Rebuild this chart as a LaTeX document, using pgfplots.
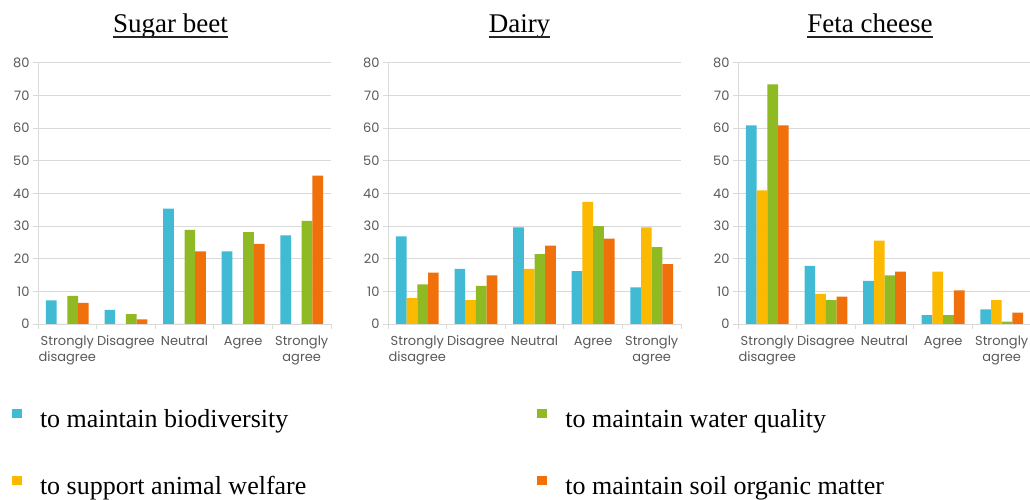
\documentclass[border=0pt]{standalone}
\usepackage{pgfplots}
\pgfplotsset{compat=1.18}
\usepackage{fontspec}
\setmainfont{Liberation Serif}
\newfontfamily\tickfont{Poppins}
\definecolor{cBlue}{HTML}{41BAD4}
\definecolor{cYellow}{HTML}{FBB900}
\definecolor{cGreen}{HTML}{8FBA23}
\definecolor{cOrange}{HTML}{F0700C}
\definecolor{gridgray}{HTML}{D9D9D9}
\definecolor{tickgray}{HTML}{595959}
\pgfplotsset{
  panel/.style={
    scale only axis, width=293pt, height=261.3pt,
    at={(#1,176pt)}, anchor=south west,
    ybar=0pt, bar width=10.7pt,
    ymin=0, ymax=80, ytick={0,10,...,80},
    xmin=-0.5, xmax=4.5, xtick={0,...,4},
    xticklabels={{Strongly\\disagree},Disagree,Neutral,Agree,{Strongly\\agree}},
    minor xtick={-0.5,0.5,...,4.5},
    axis x line*=bottom, axis y line*=left,
    axis line style={draw=gridgray, line width=0.8pt, -},
    ymajorgrids, grid style={draw=gridgray, line width=0.8pt},
    tick align=outside, major tick length=5pt, minor tick length=5pt,
    major x tick style={draw=none},
    minor x tick style={draw=gridgray, line width=0.8pt},
    ytick style={draw=gridgray, line width=0.8pt},
    /pgf/number format/assume math mode=true,
    tick label style={font=\tickfont\fontsize{13}{16}\selectfont, text=tickgray},
    xticklabel style={align=center, yshift=-3.5pt},
    legend image code/.code={\fill[##1] (0pt,4pt) rectangle (10pt,13pt);},
  },
}
\begin{document}
\begin{tikzpicture}
\useasboundingbox (0pt,0pt) rectangle (1030pt,500pt);
% Sugar beet
\begin{axis}[panel=38pt,
  legend columns=2, transpose legend,
  legend cell align=left,
  legend style={draw=none, fill=none, at={(-0.0887,-0.325)}, anchor=north west,
    inner sep=0pt, outer sep=0pt,
    font=\fontsize{26}{30}\selectfont,
    nodes={inner sep=0pt, text height=18pt, text depth=6pt},
    row sep=42pt,
    /tikz/every odd column/.append style={column sep=18pt},
    /tikz/every even column/.append style={column sep=231pt}},
]
\addplot[fill=cBlue, draw=none] coordinates {(0,7.2) (1,4.3) (2,35.3) (3,22.2) (4,27.1)};
\addplot[fill=cYellow, draw=none] coordinates {(0,0) (1,0) (2,0) (3,0) (4,0)};
\addplot[fill=cGreen, draw=none] coordinates {(0,8.6) (1,3.0) (2,28.8) (3,28.1) (4,31.6)};
\addplot[fill=cOrange, draw=none] coordinates {(0,6.5) (1,1.4) (2,22.2) (3,24.5) (4,45.4)};
\legend{to maintain biodiversity, to support animal welfare, to maintain water quality, to maintain soil organic matter}
\end{axis}
% Dairy
\begin{axis}[panel=388pt]
\addplot[fill=cBlue, draw=none] coordinates {(0,26.8) (1,16.9) (2,29.6) (3,16.2) (4,11.2)};
\addplot[fill=cYellow, draw=none] coordinates {(0,7.9) (1,7.3) (2,16.9) (3,37.4) (4,29.6)};
\addplot[fill=cGreen, draw=none] coordinates {(0,12.1) (1,11.7) (2,21.4) (3,30.0) (4,23.5)};
\addplot[fill=cOrange, draw=none] coordinates {(0,15.7) (1,14.9) (2,24.0) (3,26.1) (4,18.3)};
\end{axis}
% Feta cheese
\begin{axis}[panel=738pt]
\addplot[fill=cBlue, draw=none] coordinates {(0,60.8) (1,17.8) (2,13.2) (3,2.7) (4,4.5)};
\addplot[fill=cYellow, draw=none] coordinates {(0,40.9) (1,9.2) (2,25.5) (3,16.0) (4,7.3)};
\addplot[fill=cGreen, draw=none] coordinates {(0,73.4) (1,7.3) (2,14.9) (3,2.7) (4,0.7)};
\addplot[fill=cOrange, draw=none] coordinates {(0,60.8) (1,8.4) (2,16.0) (3,10.3) (4,3.5)};
\end{axis}
% titles
\begin{scope}[every node/.style={anchor=base, inner sep=0pt, font=\fontsize{27}{30}\selectfont}]
\node (t1) at (170.5pt,467pt) {Sugar beet};
\node (t2) at (519.5pt,467pt) {Dairy};
\node (t3) at (870pt,467pt) {Feta cheese};
\end{scope}
\foreach \t in {t1,t2,t3}{
  \draw[line width=1.1pt, black!85] ([yshift=-4pt]\t.base west) -- ([yshift=-4pt]\t.base east);
}
\end{tikzpicture}
\end{document}
